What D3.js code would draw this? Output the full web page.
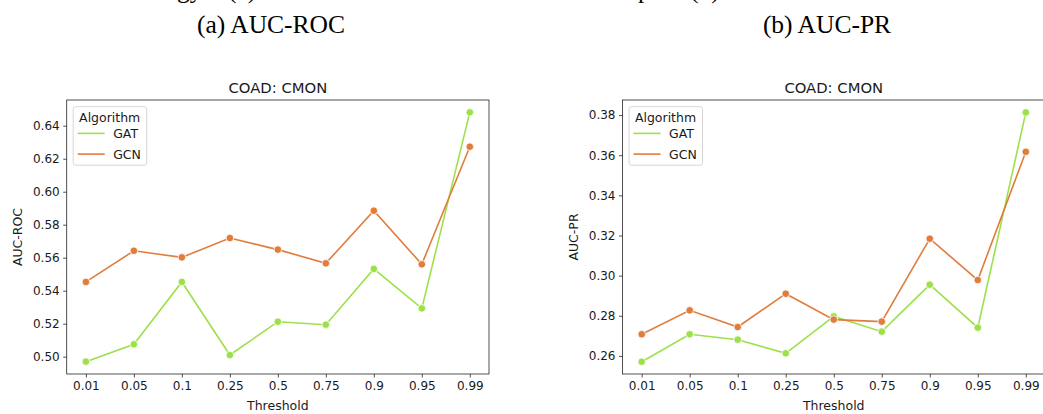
<!DOCTYPE html>
<html><head><meta charset="utf-8">
<script src="https://cdn.jsdelivr.net/npm/d3@7"></script>
<style>body{margin:0;background:#fff}svg{display:block}</style>
</head><body>
<script>
const thresholds = ["0.01","0.05","0.1","0.25","0.5","0.75","0.9","0.95","0.99"];
const rocGAT = [0.4970,0.5075,0.5453,0.5010,0.5212,0.5194,0.5532,0.5293,0.6481];
const rocGCN = [0.5453,0.5642,0.5602,0.5719,0.5649,0.5566,0.5885,0.5560,0.6273];
const prGAT  = [0.2571,0.2708,0.2681,0.2613,0.2797,0.2721,0.2955,0.2741,0.3813];
const prGCN  = [0.2708,0.2827,0.2744,0.2910,0.2781,0.2771,0.3184,0.2978,0.3617];
const rocTicks = [0.50,0.52,0.54,0.56,0.58,0.60,0.62,0.64];
const prTicks = [0.26,0.28,0.30,0.32,0.34,0.36,0.38];
const seriesNames = ["GAT","GCN"];
const colors = {GAT:"#9de04a", GCN:"#e07c3c"};

const W=1043,H=414;
const svg=d3.select("body").append("svg").attr("width",W).attr("height",H);
const font="DejaVu Sans, sans-serif";
const serif="Liberation Serif, Times New Roman, serif";

// clipped text line from the page above
const topLine = svg.append("g").attr("font-family",serif).attr("font-size",25.5).attr("fill","#000");
topLine.append("text").attr("x",177).attr("y",-2).text("gy");
topLine.append("text").attr("x",228).attr("y",-2).text("(c)");
topLine.append("text").attr("x",638).attr("y",-2).text("p");
topLine.append("text").attr("x",690).attr("y",-2).text("(d)");

// captions
svg.append("text").attr("x",271).attr("y",33).attr("text-anchor","middle")
  .attr("font-family",serif).attr("font-size",25.5).text("(a) AUC-ROC");
svg.append("text").attr("x",827).attr("y",33).attr("text-anchor","middle")
  .attr("font-family",serif).attr("font-size",25.5).text("(b) AUC-PR");

function panel(opt){
  const {x0,x1,y0,y1,dom,ticks,gat,gcn,ylabel,ylabX} = opt;
  const g=svg.append("g");
  const x=d3.scalePoint().domain(thresholds).range([x0,x1]).padding(0.4);
  const y=d3.scaleLinear().domain(dom).range([y1,y0]);
  const cid="clip"+Math.round(x0);
  svg.append("clipPath").attr("id",cid).append("rect").attr("x",x0).attr("y",y0).attr("width",x1-x0).attr("height",y1-y0);
  const line=d3.line().x((d,i)=>x(thresholds[i])).y(d=>y(d));
  const data={GAT:gat,GCN:gcn};
  seriesNames.forEach(s=>{
    g.append("path").attr("d",line(data[s])).attr("fill","none").attr("stroke",colors[s]).attr("stroke-width",1.6).attr("clip-path",`url(#${cid})`);
  });
  seriesNames.forEach(s=>{
    g.selectAll(null).data(data[s]).enter().append("circle")
      .attr("cx",(d,i)=>x(thresholds[i])).attr("cy",d=>y(d)).attr("r",3.8)
      .attr("fill",colors[s]).attr("stroke","#fff").attr("stroke-width",0.8);
  });
  const ax=d3.axisBottom(x).tickSize(3.5).tickPadding(3.5);
  const ay=d3.axisLeft(y).tickValues(ticks).tickFormat(d3.format(".2f")).tickSize(3.5).tickPadding(3.5);
  const gx=g.append("g").attr("transform",`translate(0,${y1})`).call(ax);
  const gy=g.append("g").attr("transform",`translate(${x0},0)`).call(ay);
  [gx,gy].forEach(a=>{
    a.select(".domain").remove();
    a.selectAll("line").attr("stroke","#262626").attr("stroke-width",0.8);
    a.selectAll("text").attr("font-family",font).attr("font-size",12).attr("fill","#1a1a1a");
  });
  g.append("rect").attr("x",x0).attr("y",y0).attr("width",x1-x0).attr("height",y1-y0)
    .attr("fill","none").attr("stroke","#262626").attr("stroke-width",0.8);
  g.append("text").attr("x",(x0+x1)/2).attr("y",y0-7).attr("text-anchor","middle")
    .attr("font-family",font).attr("font-size",14.8).attr("fill","#1a1a1a").text("COAD: CMON");
  g.append("text").attr("x",(x0+x1)/2).attr("y",410).attr("text-anchor","middle")
    .attr("font-family",font).attr("font-size",12.5).attr("fill","#1a1a1a").text("Threshold");
  g.append("text").attr("transform",`translate(${ylabX},${(y0+y1)/2}) rotate(-90)`).attr("text-anchor","middle")
    .attr("font-family",font).attr("font-size",12.5).attr("fill","#1a1a1a").text(ylabel);
  const lx=x0+6.5, ly=y0+6.7;
  const lg=g.append("g");
  lg.append("rect").attr("x",lx).attr("y",ly).attr("width",73.5).attr("height",58.5).attr("rx",2.5)
    .attr("fill","#fff").attr("fill-opacity",0.8).attr("stroke","#cccccc").attr("stroke-width",0.8);
  lg.append("text").attr("x",lx+36.5).attr("y",ly+15.5).attr("text-anchor","middle")
    .attr("font-family",font).attr("font-size",12.5).attr("fill","#1a1a1a").text("Algorithm");
  seriesNames.forEach((s,i)=>{
    const yy=ly+26.7+i*20.7;
    lg.append("line").attr("x1",lx+4.5).attr("x2",lx+31.5).attr("y1",yy).attr("y2",yy)
      .attr("stroke",colors[s]).attr("stroke-width",1.6);
    lg.append("text").attr("x",lx+40).attr("y",yy+4.5).attr("font-family",font).attr("font-size",12.5)
      .attr("fill","#1a1a1a").text(s);
  });
}

panel({x0:66.7,x1:489,y0:100,y1:374,dom:[0.4895,0.6556],ticks:rocTicks,gat:rocGAT,gcn:rocGCN,ylabel:"AUC-ROC",ylabX:22});
panel({x0:622.5,x1:1045,y0:100,y1:374,dom:[0.2510,0.3875],ticks:prTicks,gat:prGAT,gcn:prGCN,ylabel:"AUC-PR",ylabX:578});
</script>
</body></html>
